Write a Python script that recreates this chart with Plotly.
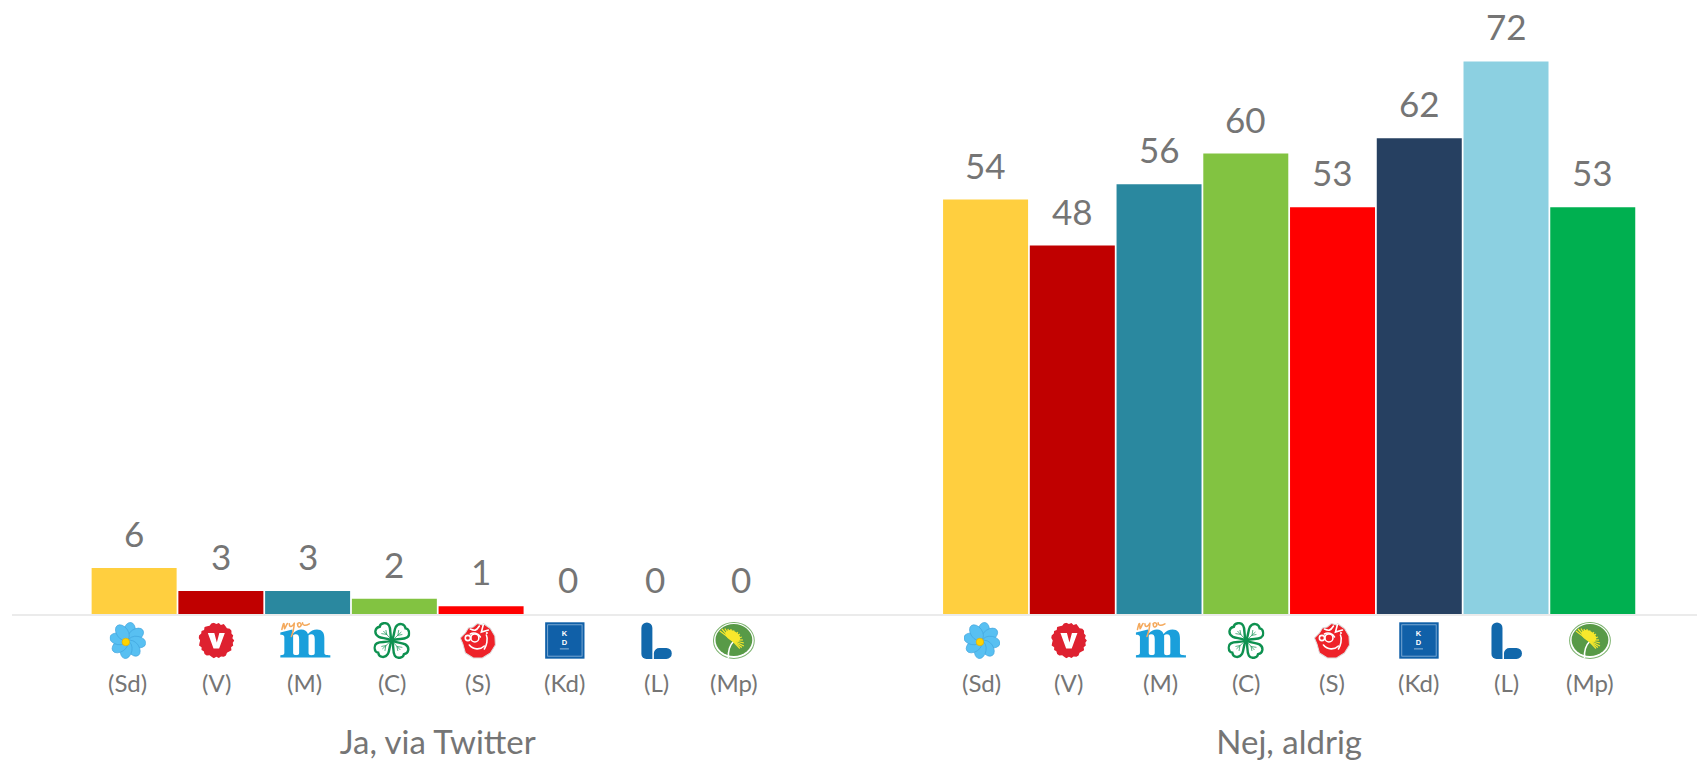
import base64
import math
import plotly.graph_objects as go

# ---- data ----
groups = ["Ja, via Twitter", "Nej, aldrig"]
parties = ["(Sd)", "(V)", "(M)", "(C)", "(S)", "(Kd)", "(L)", "(Mp)"]
ja_values = [6, 3, 3, 2, 1, 0, 0, 0]
nej_values = [54, 48, 56, 60, 53, 62, 72, 53]
colors = ["#FFCF3F", "#C00000", "#2A889F", "#82C341", "#FF0000", "#264061", "#8CD0E1", "#00B050"]

# ---- page layout (pixels in the 1697x760 page) ----
W, H = 1697, 760
ML = 12.2
AXIS_Y = 614.5
BARGAP = 0.185
ja_label_x = [128, 216.5, 305, 392, 478, 565, 657, 734]
nej_label_x = [982, 1069, 1161, 1246, 1332, 1419, 1507, 1590]
ja_logo_x = [128, 216.5, 305.5, 392, 478, 565, 656.5, 734]
nej_logo_x = [982, 1069, 1161, 1246, 1332, 1419, 1506.5, 1590]
logo_sizes = [(36, 37), (36, 36), (52, 38), (37, 37), (37, 37), (40, 37), (31, 37), (42, 37)]
logo_y = [641, 641, 640, 641, 641, 641, 641, 641]
TEXT = "#757575"
FONT = "Lato"


def px(x):
    return (x - ML) / (W - ML)


def py(y):
    return (AXIS_Y - y) / AXIS_Y


def svg_uri(w, h, body):
    s = f'<svg xmlns="http://www.w3.org/2000/svg" width="{w*4}" height="{h*4}" viewBox="0 0 {w} {h}">{body}</svg>'
    return "data:image/svg+xml;base64," + base64.b64encode(s.encode()).decode()


def logo_sd(w, h):
    b = ""
    for i in range(8):
        a = i * 45 + 10
        b += (f'<ellipse cx="18" cy="9" rx="5.8" ry="8.8" fill="#58C0F2" stroke="#3FA3DC" stroke-width="0.6" '
              f'transform="rotate({a} 18 18.5)"/>')
    b += '<circle cx="16" cy="20" r="3.8" fill="#FFD400" stroke="#E5A800" stroke-width="0.6"/>'
    return b


def logo_v(w, h):
    pts = []
    n = 44
    rr = [18, 16.6, 17.6, 16.2, 18, 17, 16.2, 17.8]
    for i in range(n):
        a = 2 * math.pi * i / n
        r = rr[i % len(rr)]
        pts.append(f"{18 + r * math.cos(a):.2f},{18 + r * math.sin(a):.2f}")
    b = f'<polygon points="{" ".join(pts)}" fill="#DE2130"/>'
    b += '<path d="M9.5 10.5 H16 L18.5 20 L21 10.5 H26.5 L20.8 26 H15.2 Z" fill="#FFFFFF"/>'
    return b


def logo_m(w, h):
    c = "#1A9FDB"
    b = (f'<path fill="{c}" d="M1 37 L1 34.8 C3.6 34.8 5 34.4 5 32.6 L5 16.6 C5 14.6 3.4 14.2 1 14.2 L1 12 '
         f'L13 9 L13.6 13 C16.2 10.4 19 9 22 9 C25.4 9 27.6 10.6 28.6 13.4 C31.2 10.4 34.4 9 37.6 9 '
         f'C42.6 9 45 12 45 17.4 L45 32.6 C45 34.4 46.4 34.8 51 34.8 L51 37 L31.6 37 L31.6 34.8 '
         f'C34.6 34.8 35.4 34.4 35.4 32.6 L35.4 18.4 C35.4 15.2 34.2 13.8 32 13.8 C31 13.8 30 14.2 29.2 14.8 '
         f'L29.2 32.6 C29.2 34.4 30.2 34.8 32 34.8 L32 37 L16 37 L16 34.8 C19 34.8 19.8 34.4 19.8 32.6 '
         f'L19.8 18.4 C19.8 15.2 18.6 13.8 16.6 13.8 C15.6 13.8 14.4 14.2 13.8 14.8 L13.8 32.6 C13.8 34.4 15 34.8 17.4 34.8 '
         f'L17.4 37 Z"/>')
    b += ('<path fill="none" stroke="#F4A95C" stroke-width="1.5" stroke-linecap="round" stroke-linejoin="round" '
          'd="M2.5 9 C3.5 5 4 2.8 4.6 3.2 C5.2 4.4 4.6 7.4 5.2 8.2 C6.8 6 7.2 3.4 8.2 3 '
          'M10 3.2 C10 6.6 12.2 7.6 15 2.6 C14.6 7.4 13.6 12.4 12 16 '
          'M18 3.4 C20.4 0.6 23 3.8 21.2 5.8 C19.8 7.4 17.6 5.8 18.6 3.8 M23.2 2.2 C23.2 4.4 25 6.2 30 3.4"/>')
    return b


def logo_c(w, h):
    leaf = ('<path d="M18.5 18.5 C13 15.6 8.6 16.6 5 14.6 C0.4 11.6 1.4 5.6 6.4 4.8 '
            'C6.8 0.8 13.4 -0.2 15.6 3.4 C18.2 7.4 15.8 12.4 18.5 18.5 Z" fill="#FFFFFF" stroke="#0E9150" stroke-width="2.4"/>'
            '<path d="M17.5 17 L10 9 M13.5 13 L12.5 8 M13 12.4 L8 11.6" stroke="#0E9150" stroke-width="0.7" fill="none"/>')
    b = ""
    for a in (0, 90, 180, 270):
        b += f'<g transform="rotate({a} 18.5 18.5)">{leaf}</g>'
    return b


def logo_s(w, h):
    b = ('<path d="M9 6 L14 5 L18 1.5 L23 3 L24 1.5 L31 6.5 L35.5 14 L36 23 L31 31 L23 36 L14 36 L6 31 '
         'L3.5 22 L1 16 L6 11 Z" fill="#EE2229" stroke="#DDDDDD" stroke-width="1" stroke-linejoin="round"/>')
    b += ('<g fill="none" stroke="#FFFFFF" stroke-width="1.6" stroke-linecap="round">'
          '<path d="M11 7 C15 9 17 9 20 4"/>'
          '<path d="M24 2.5 L22 10 L29 8"/>'
          '<circle cx="8.5" cy="16" r="2.6"/>'
          '<circle cx="15.5" cy="16" r="4"/>'
          '<path d="M10 23 C14 28 21 28 25 24"/>'
          '<path d="M27 13 C29 17 27 24 25 27"/>'
          '<path d="M11 12 C14 10 19 11 21 15"/></g>')
    b += '<circle cx="27.5" cy="11" r="1.1" fill="#FFFFFF"/>'
    return b


def logo_kd(w, h):
    b = '<rect x="0.3" y="0.3" width="39.4" height="36.4" fill="#1060A8"/>'
    b += '<rect x="2.8" y="2.8" width="34.4" height="31.4" fill="none" stroke="#8FB7DC" stroke-width="0.8"/>'
    b += ('<text x="19.5" y="14" text-anchor="middle" font-family="Liberation Sans" font-weight="700" '
          'font-size="7.5" fill="#FFFFFF">K</text>')
    b += ('<text x="19.5" y="23.5" text-anchor="middle" font-family="Liberation Sans" font-weight="700" '
          'font-size="7.5" fill="#FFFFFF">D</text>')
    b += '<rect x="15" y="26.6" width="9" height="0.7" fill="#C9DDEF"/>'
    return b


def logo_l(w, h):
    b = '<path d="M0.5 6 A5.5 5.5 0 0 1 11.5 6 L11.5 37 L5.5 37 A5 5 0 0 1 0.5 32 Z" fill="#1268AB"/>'
    b += '<path d="M13 37 L13 31 A5.5 5.5 0 0 1 18.5 26 L25.5 26 A5.5 5.5 0 0 1 25.5 37 Z" fill="#1268AB"/>'
    return b


def logo_mp(w, h):
    b = '<ellipse cx="21" cy="18.5" rx="20.4" ry="18" fill="#FFFFFF" stroke="#7DB36F" stroke-width="1"/>'
    b += '<ellipse cx="21" cy="18" rx="18.4" ry="16" fill="#589A47"/>'
    b += '<path d="M15.5 36 C15 28 17 23 21 19" fill="none" stroke="#FFFFFF" stroke-width="1.6"/>'
    b += '<g stroke="#F7E82C" stroke-width="1.2" fill="none">'
    for x2, y2 in [(7, 9), (9, 7), (12, 6.5), (15, 7), (18, 7), (21, 8.5), (25, 10), (27, 12), (29, 15),
                   (30, 18), (31, 21), (31, 24), (29, 25.5), (27, 26.5)]:
        b += f'<path d="M19 18 L{x2} {y2}"/>'
    b += '</g><ellipse cx="20" cy="14" rx="8" ry="5" fill="#F7E82C" transform="rotate(30 20 14)"/>'
    return b


logo_funcs = [logo_sd, logo_v, logo_m, logo_c, logo_s, logo_kd, logo_l, logo_mp]

fig = go.Figure()
annotations = []
slot = (1 - BARGAP) / len(parties)
for i, party in enumerate(parties):
    vals = [ja_values[i], nej_values[i]]
    fig.add_trace(go.Bar(
        x=groups, y=vals, name=party,
        marker=dict(color=colors[i], line=dict(width=0)),
        cliponaxis=False, showlegend=False,
        hoverinfo="x+y+name",
    ))
    # value labels sit on the bars, through the axis scales
    for g, v in enumerate(vals):
        annotations.append(dict(
            x=g + (i - (len(parties) - 1) / 2) * slot, y=v, xref="x", yref="y",
            text=str(v), showarrow=False, xanchor="center", yanchor="bottom", yshift=12,
            font=dict(family=FONT, size=35, color=TEXT),
        ))

images = []
for xs_label, xs_logo in ((ja_label_x, ja_logo_x), (nej_label_x, nej_logo_x)):
    for i, party in enumerate(parties):
        annotations.append(dict(
            x=px(xs_label[i]), y=py(683), xref="paper", yref="paper",
            text=party, showarrow=False, xanchor="center", yanchor="middle",
            font=dict(family=FONT, size=24, color=TEXT),
        ))
        w, h = logo_sizes[i]
        images.append(dict(
            source=svg_uri(w, h, logo_funcs[i](w, h)),
            xref="paper", yref="paper", x=px(xs_logo[i]), y=py(logo_y[i]),
            sizex=w / (W - ML), sizey=h / AXIS_Y,
            xanchor="center", yanchor="middle", sizing="stretch", layer="above",
        ))

fig.update_layout(
    width=W, height=H,
    margin=dict(l=ML, r=0, t=0, b=H - AXIS_Y, pad=0, autoexpand=False),
    paper_bgcolor="#FFFFFF", plot_bgcolor="#FFFFFF",
    barmode="group", bargap=BARGAP, bargroupgap=0.02,
    annotations=annotations, images=images,
    xaxis=dict(
        type="category", range=[-0.5, 1.479], showgrid=False, zeroline=False,
        showline=True, linecolor="#EBEBEB", linewidth=2, ticks="",
        tickfont=dict(family=FONT, size=33, color=TEXT), ticklabelstandoff=98,
    ),
    yaxis=dict(range=[0, 80], visible=False),
)

fig.write_html(
    "out.html",
    config={"displayModeBar": False},
    post_script="document.body.style.margin='0';document.documentElement.style.overflow='hidden';",
)
